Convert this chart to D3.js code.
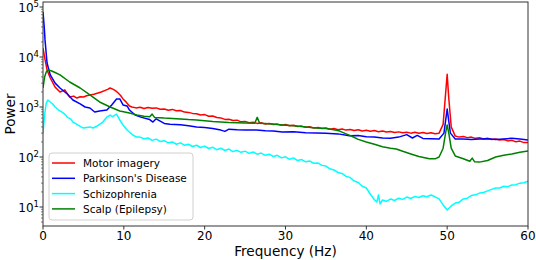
<!DOCTYPE html>
<meta charset="utf-8">
<script src="https://cdn.jsdelivr.net/npm/d3@7"></script>
<style>
  body { margin: 0; background: #fff; }
  text { font-family: "DejaVu Sans", sans-serif; fill: #000; }
</style>
<svg id="chart" width="536" height="260"></svg>
<script>

// Data (Hz, power)
const seriesNames = ["Motor imagery", "Parkinson's Disease", "Schizophrenia", "Scalp (Epilepsy)"];
const seriesColors = ["red", "blue", "cyan", "green"];

const motorFreq = [0, 0.25, 0.5, 0.9, 1.5, 2.1, 2.7, 3.3, 3.8, 4.2, 4.6, 5.0, 5.4, 5.8, 6.3, 6.8, 7.2, 7.7, 8.0, 8.3, 8.7, 9.0, 9.3, 9.6, 9.9, 10.3, 10.7,
  11, 11.5, 12, 12.5, 13, 13.5, 14, 14.5, 15, 15.5, 16, 16.5, 17, 17.5, 18, 18.5, 19, 19.5, 20, 20.5, 21, 21.5, 22, 22.5, 23, 23.5, 24, 24.5, 25, 25.5,
  26, 26.5, 27, 27.5, 28, 28.5, 29, 29.5, 30, 30.5, 31, 31.5, 32, 32.5, 33, 33.5, 34, 34.5, 35, 35.5, 36, 36.5, 37, 37.5, 38, 38.5, 39, 39.5,
  40, 40.5, 41, 41.5, 42, 42.5, 43, 43.5, 44, 44.5, 45, 45.5, 46, 46.5, 47, 47.5, 48, 48.5, 49, 49.5, 49.8, 50, 50.2, 50.5,
  51, 51.5, 52, 52.5, 53, 53.5, 54, 54.5, 55, 55.5, 56, 56.5, 57, 57.5, 58, 58.5, 59, 59.5, 60];
const motorPower = [15000, 9000, 5500, 3800, 2500, 2000, 2200, 1580, 1650, 1510, 1600, 1580, 1680, 1740, 1800, 1900, 2000, 2150, 2250, 2400, 2250, 2100, 1900, 1700, 1450, 1250, 1050,
  1000, 960, 990, 930, 975, 940, 960, 900, 910, 860, 895, 840, 850, 790, 780, 745, 730, 690, 705, 655, 660, 615, 605, 565, 570, 535, 545, 505, 515, 485,
  495, 470, 485, 455, 468, 445, 455, 432, 445, 420, 432, 408, 415, 392, 402, 378, 390, 370, 380, 360, 370, 352, 362, 345, 356, 338, 350, 332,
  342, 326, 338, 320, 330, 315, 325, 310, 318, 305, 314, 300, 312, 298, 308, 295, 305, 292, 300, 450, 1800, 4500, 1500, 400,
  262, 250, 258, 244, 250, 236, 242, 230, 238, 224, 230, 218, 224, 210, 215, 202, 208, 194, 195];

const parkFreq = [0, 0.15, 0.25, 0.5, 0.9, 1.5, 2.1, 3.0, 3.7, 4.6, 5.2, 5.8, 6.4, 7.0, 7.9, 8.5, 9.1, 9.5, 9.9, 10.4, 10.7, 11.4, 12.2, 13.2, 13.6, 14, 15, 15.7, 17, 18, 19, 20, 21, 22, 22.5, 23, 24, 25, 26.4, 27.5, 28.5, 29.6, 31, 32.5, 33.8, 35, 36.5, 37.9, 39, 40, 41, 42, 43, 44, 45, 45.7, 46.3, 47, 48, 49, 49.6, 50, 50.4, 51, 52, 53, 54, 55, 56, 57, 58, 59, 60];
const parkPower = [80000, 40000, 22000, 7600, 4400, 3000, 2400, 1820, 1380, 1150, 1000, 955, 795, 830, 870, 1100, 1450, 1450, 1100, 1050, 870, 690, 620, 560, 500, 580, 470, 450, 440, 420, 400, 390, 370, 345, 325, 360, 350, 345, 345, 335, 330, 316, 320, 305, 302, 300, 290, 265, 270, 255, 250, 240, 238, 250, 280, 240, 270, 235, 232, 229, 300, 910, 300, 229, 230, 225, 229, 232, 225, 230, 236, 228, 219];

const schizFreq = [0, 0.2, 0.4, 0.6, 0.9, 1.2, 1.5, 1.9, 2.3, 2.7, 3, 3.4, 3.7, 4.0, 4.3, 4.7, 5, 5.4, 5.8, 6.2, 6.7, 7.0, 7.4, 7.9, 8.3, 8.6, 9.1, 9.5, 9.9, 10.4, 11.1, 11.6,
  12, 12.5, 13, 13.5, 14, 14.5, 15, 15.5, 16, 16.5, 17, 17.5, 18, 18.5, 19, 19.5, 20, 20.5, 21, 21.5, 22, 22.5, 23, 23.5, 24, 24.5, 25, 25.5,
  26, 26.5, 27, 27.5, 28, 28.5, 29, 29.5, 30, 30.5, 31, 31.5, 32, 32.5, 33, 33.5, 34, 34.5, 35, 35.5, 36, 36.5, 37, 37.5, 38, 38.5, 39, 39.5,
  40, 40.5, 41, 41.3, 41.5, 41.7, 42, 42.5, 43, 43.5, 44, 44.5, 45, 45.5, 46, 46.5, 47, 47.5, 48, 48.5, 49, 49.5, 50, 50.5,
  51, 51.5, 52, 52.5, 53, 53.5, 54, 54.5, 55, 55.5, 56, 56.5, 57, 57.5, 58, 58.5, 59, 59.5, 60];
const schizPower = [300, 700, 1200, 1380, 1260, 1150, 1000, 880, 800, 720, 630, 580, 500, 470, 437, 400, 380, 390, 400, 380, 417, 450, 500, 630, 690, 640, 720, 550, 437, 347, 275, 250,
  250, 232, 240, 215, 228, 205, 212, 192, 200, 180, 192, 172, 180, 162, 172, 155, 165, 148, 156, 140, 150, 135, 144, 128, 136, 124, 131, 118,
  126, 114, 120, 108, 114, 102, 108, 96, 101, 90, 96, 85, 89, 80, 83, 75, 76, 68, 66, 58, 55, 49, 47, 41, 39, 33, 31, 26,
  24, 18, 14, 12.6, 17.4, 11.5, 13.8, 13, 14.5, 13.5, 15, 14.2, 15.8, 14.8, 16.3, 15.5, 16.8, 16, 17.4, 16, 14.5, 11, 8.7, 10.5,
  12, 12.5, 14.5, 15, 17, 17.5, 19, 19.5, 21, 22.5, 24, 24, 26, 25.5, 27.5, 28, 30, 30.5, 33];

const scalpFreq = [0, 0.2, 0.4, 0.6, 1, 1.5, 2.1, 3.3, 4.6, 5.8, 7, 8.3, 9.5, 10.7, 11.6, 12.5, 13.2, 13.5, 13.8, 15, 16, 17, 18, 19, 20, 21, 22, 23, 24, 25, 26.2, 26.5, 26.8, 28, 29.6, 31, 32.5, 33.8, 35, 36, 36.7, 37.5, 38.2, 39, 40, 41, 42, 43, 43.7, 44.5, 45.7, 46.5, 47.8, 48.5, 49, 49.5, 49.8, 50, 50.2, 50.5, 51, 52, 52.8, 53.1, 53.4, 54, 55, 56, 57, 58, 59, 60];
const scalpPower = [2400, 4000, 5000, 5500, 5300, 4900, 4400, 3160, 2400, 1740, 1260, 1000, 830, 760, 690, 650, 640, 720, 620, 600, 590, 575, 560, 550, 530, 510, 500, 490, 485, 480, 475, 620, 475, 460, 437, 420, 400, 380, 370, 350, 330, 290, 260, 225, 200, 180, 160, 150, 145, 130, 112, 102, 92, 92, 100, 150, 300, 437, 300, 150, 105, 92, 82, 95, 80, 79, 85, 100, 108, 115, 125, 132];

const xTicks = [0, 10, 20, 30, 40, 50, 60];
const yTicks = [1, 2, 3, 4, 5];   // exponents

// The svg
const svg = d3.select("#chart");
const mLeft = 43, mRight = 528, mTop = 2, mBottom = 226;

const x = d3.scaleLinear().domain([0, 60]).range([mLeft, mRight]);
const y = d3.scaleLog().domain([Math.pow(10, 0.62), Math.pow(10, 5.1)]).range([mBottom, mTop]);

svg.append("clipPath").attr("id", "plot")
  .append("rect").attr("x", mLeft).attr("y", mTop).attr("width", mRight - mLeft).attr("height", mBottom - mTop);

// lines, drawn in legend order
const series = [
  { f: motorFreq, p: motorPower },
  { f: parkFreq, p: parkPower },
  { f: schizFreq, p: schizPower },
  { f: scalpFreq, p: scalpPower }
];

const line = d3.line().x(d => x(d[0])).y(d => y(d[1]));

svg.append("g").attr("clip-path", "url(#plot)")
  .selectAll("path")
  .data(series)
  .join("path")
    .attr("d", s => line(d3.zip(s.f, s.p)))
    .attr("fill", "none")
    .attr("stroke", (s, i) => seriesColors[i])
    .attr("stroke-width", 1.5)
    .attr("stroke-linejoin", "round");

// frame
svg.append("rect")
  .attr("x", mLeft).attr("y", mTop)
  .attr("width", mRight - mLeft).attr("height", mBottom - mTop)
  .attr("fill", "none").attr("stroke", "#333").attr("stroke-width", 1);

// x axis
const gx = svg.append("g");
gx.selectAll("line").data(xTicks).join("line")
  .attr("x1", d => x(d)).attr("x2", d => x(d))
  .attr("y1", mBottom).attr("y2", mBottom + 3.5)
  .attr("stroke", "#333").attr("stroke-width", 1);
gx.selectAll("text").data(xTicks).join("text")
  .attr("x", d => x(d)).attr("y", mBottom + 14)
  .attr("text-anchor", "middle").style("font-size", "12px")
  .text(d => d);

// y axis, major ticks with 10^n labels
const gy = svg.append("g");
gy.selectAll("line.major").data(yTicks).join("line")
  .attr("class", "major")
  .attr("x1", mLeft - 3.5).attr("x2", mLeft)
  .attr("y1", d => y(Math.pow(10, d))).attr("y2", d => y(Math.pow(10, d)))
  .attr("stroke", "#333").attr("stroke-width", 1);

const minor = [];
for (let e = 0; e <= 5; e++) {
  for (let k = 2; k <= 9; k++) {
    const v = k * Math.pow(10, e);
    if (v > y.domain()[0] && v < y.domain()[1]) minor.push(v);
  }
}
gy.selectAll("line.minor").data(minor).join("line")
  .attr("class", "minor")
  .attr("x1", mLeft - 2).attr("x2", mLeft)
  .attr("y1", d => y(d)).attr("y2", d => y(d))
  .attr("stroke", "#333").attr("stroke-width", 0.6);

const ylab = gy.selectAll("text").data(yTicks).join("text")
  .attr("x", 39).attr("y", d => y(Math.pow(10, d)) + 5)
  .attr("text-anchor", "end").style("font-size", "12px");
ylab.append("tspan").text("10");
ylab.append("tspan").attr("dy", -5).style("font-size", "8.5px").text(d => d);

// axis titles
svg.append("text")
  .attr("x", (mLeft + mRight) / 2).attr("y", 256)
  .attr("text-anchor", "middle").style("font-size", "13.6px")
  .text("Frequency (Hz)");
svg.append("text")
  .attr("transform", `translate(15,${(mTop + mBottom) / 2}) rotate(-90)`)
  .attr("text-anchor", "middle").style("font-size", "13.6px")
  .text("Power");

// legend
const legend = svg.append("g").attr("transform", "translate(49,153)");
legend.append("rect")
  .attr("width", 144).attr("height", 67).attr("rx", 3)
  .attr("fill", "#fff").attr("fill-opacity", 0.8)
  .attr("stroke", "#d0d0d0").attr("stroke-width", 1);
const items = legend.selectAll("g").data(seriesNames).join("g")
  .attr("transform", (d, i) => `translate(0,${10 + i * 15.3})`);
items.append("line")
  .attr("x1", 3).attr("x2", 26)
  .attr("stroke", (d, i) => seriesColors[i]).attr("stroke-width", 1.5);
items.append("text")
  .attr("x", 34).attr("y", 4)
  .style("font-size", "10.5px")
  .text(d => d);

</script>
